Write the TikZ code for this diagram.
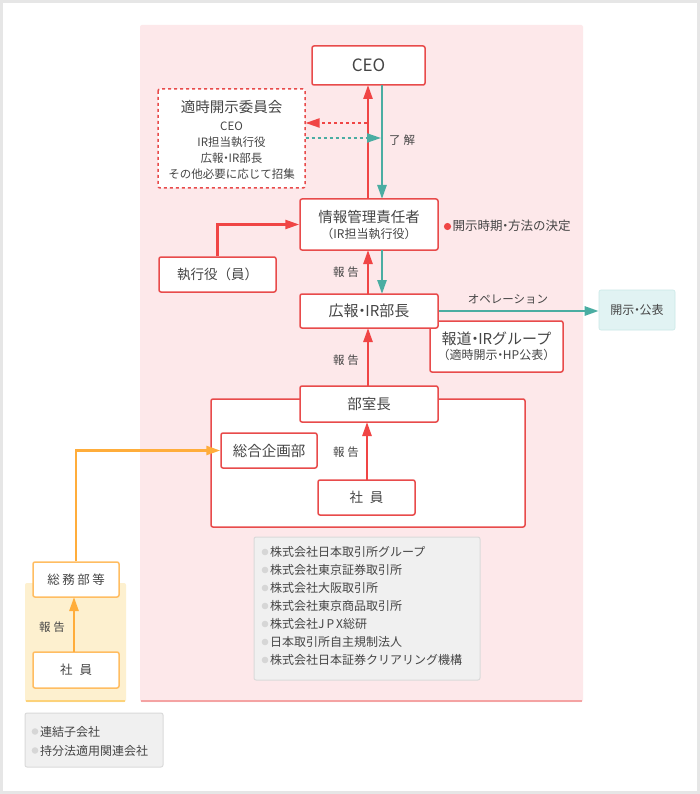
\documentclass[tikz,border=0pt]{standalone}
\usepackage{fontspec}
\setmainfont{Noto Sans CJK JP}
\usetikzlibrary{arrows.meta}
\definecolor{pinkbg}{HTML}{FDE8EA}
\definecolor{pinkedge}{HTML}{F4A3A3}
\definecolor{redln}{HTML}{E84B4B}
\definecolor{redar}{HTML}{F04545}
\definecolor{tealar}{HTML}{4AADA2}
\definecolor{tealbg}{HTML}{E1F3F3}
\definecolor{orangeln}{HTML}{FFAD3B}
\definecolor{orangebg}{HTML}{FDF0CF}
\definecolor{orangeedge}{HTML}{FCD27A}
\definecolor{txt}{HTML}{454545}
\definecolor{graybox}{HTML}{F0F0F0}
\definecolor{grayln}{HTML}{DADADA}
\definecolor{graydot}{HTML}{D6D6D6}
\definecolor{frame}{HTML}{E6E6E6}
\newcommand\nkg{\hspace{-0.28em}・\hspace{-0.28em}}
\tikzset{
  redbox/.style={draw=redln, line width=1.5pt, fill=white, rounded corners=2pt, text=txt, inner sep=0pt, align=center},
  orbox/.style={draw=orangeln!80, line width=1.5pt, fill=white, rounded corners=2pt, text=txt, inner sep=0pt, align=center},
  lbl/.style={text=txt, inner sep=0pt, font=\fontsize{11.5}{13}\selectfont},
  redarrow/.style={draw=redar, line width=2.5pt, -{Triangle[length=14pt,width=9pt]}},
  tealarrow/.style={draw=tealar, line width=2.5pt, -{Triangle[length=14pt,width=9pt]}},
  orarrow/.style={draw=orangeln, line width=2.5pt, -{Triangle[length=14pt,width=9pt]}},
  listtxt/.style={text=txt, inner sep=0pt, anchor=west, font=\fontsize{12}{14}\selectfont},
  comtxt/.style={text=txt, inner sep=0pt, font=\fontsize{11.5}{13}\selectfont},
}
\begin{document}
\begin{tikzpicture}[x=1pt,y=-1pt]
\useasboundingbox (0,0) rectangle (700,794);
\fill[white] (0,0) rectangle (700,794);
\draw[frame, line width=3pt] (1.5,1.5) rectangle (698.5,792.5);
% pink region
\fill[pinkbg, rounded corners=2pt] (140,25) rectangle (583,702);
\draw[pinkedge, line width=2pt] (141,701) -- (582,701);
% orange region
\fill[orangebg, rounded corners=2pt] (25,583) rectangle (126,702);
\draw[orangeedge, line width=2pt] (26,701) -- (125,701);
% outer department frame
\draw[redln, line width=1.5pt, fill=white, rounded corners=2pt] (211,399) rectangle (525,527);
% committee
\draw[redln, line width=1.5pt, dash pattern=on 3pt off 3pt, fill=white, rounded corners=2pt] (158,89) rectangle (305,188);
\node[text=txt, inner sep=0pt, font=\fontsize{14.5}{16}\selectfont] (comt) at (231.5,107) {適時開示委員会};
\node[comtxt] (com1) at (231.5,126) {CEO};
\node[comtxt] (com2) at (231.5,142) {IR担当執行役};
\node[comtxt] (com3) at (231.5,158) {広報\nkg IR部長};
\node[comtxt] (com4) at (231.5,174) {その他必要に応じて招集};
% boxes
\node[redbox, minimum width=113pt, minimum height=39pt, font=\fontsize{17}{19}\selectfont] (ceo) at (368.5,65.5) {CEO};
\node[redbox, minimum width=138pt, minimum height=51pt] (iim) at (369,224.5) {{\fontsize{14.5}{17}\selectfont 情報管理責任者}\\[4pt]{\fontsize{12}{13}\selectfont （IR担当執行役）}};
\node[redbox, minimum width=117pt, minimum height=35pt, font=\fontsize{13.5}{15}\selectfont] (exe) at (217.5,274.5) {執行役（員）};
\node[redbox, minimum width=133pt, minimum height=51pt] (houdou) at (496.5,346.5) {{\fontsize{15}{17}\selectfont 報道\nkg IRグループ}\\[3pt]{\fontsize{12}{13}\selectfont （適時開示\nkg HP公表）}};
\node[redbox, minimum width=138pt, minimum height=34pt, font=\fontsize{15}{17}\selectfont] (kouhou) at (369,311) {広報\nkg IR部長};
\node[fill=tealbg, draw=tealbg!85!tealar, line width=0.6pt, rounded corners=2pt, text=txt, inner sep=0pt, minimum width=76pt, minimum height=40pt, font=\fontsize{12}{13}\selectfont] (kaiji) at (637,310) {開示\nkg 公表};
\node[redbox, minimum width=138pt, minimum height=36pt, font=\fontsize{14.5}{17}\selectfont] (bushitsu) at (369,404) {部室長};
\node[redbox, minimum width=96pt, minimum height=35pt, font=\fontsize{14.5}{17}\selectfont] (sougou) at (269,450.5) {総合企画部};
\node[redbox, minimum width=97pt, minimum height=35pt, font=\fontsize{13.5}{15}\selectfont] (shain) at (366.5,497.5) {社\hspace{7pt}員};
\node[orbox, minimum width=86pt, minimum height=35pt, font=\fontsize{12.5}{15}\selectfont] (soumu) at (76,579.5) {総\hspace{2.5pt}務\hspace{2.5pt}部\hspace{2.5pt}等};
\node[orbox, minimum width=86pt, minimum height=36pt, font=\fontsize{12.5}{15}\selectfont] (shain2) at (76,670) {社\hspace{7pt}員};
% arrows
\draw[redarrow] (368,199) -- (368,85);
\draw[tealarrow] (382,85) -- (382,199);
\draw[redar, line width=2pt, dash pattern=on 3pt off 3pt, -{Triangle[length=14pt,width=9pt]}] (367,123) -- (305.5,123);
\draw[tealar, line width=2pt, dash pattern=on 3pt off 3pt, -{Triangle[length=14pt,width=9pt]}] (305.5,138) -- (381,138);
\draw[redarrow] (exe.north) |- (iim.west);
\draw[redarrow] (368,294) -- (368,250);
\draw[tealarrow] (382,250) -- (382,294);
\draw[tealarrow] (kouhou.east) -- (kouhou.east -| kaiji.west);
\draw[redarrow] (368,386) -- (368,328);
\draw[redarrow] (367,480) -- (367,422);
\draw[orarrow] (74,652) -- (74,597);
\draw[orarrow] (soumu.north) |- (sougou.west);
% labels
\node[lbl, anchor=west] (ryokai) at (389,140) {了\hspace{3pt}解};
\node[lbl] (hk1) at (346,272) {報\hspace{3pt}告};
\node[lbl] (hk2) at (346,360) {報\hspace{3pt}告};
\node[lbl] (hk3) at (346,452) {報\hspace{3pt}告};
\node[lbl] (hk4) at (52,627) {報\hspace{3pt}告};
\fill[redar] (447.5,226.5) circle (3.6pt);
\node[text=txt, inner sep=0pt, anchor=west, font=\fontsize{12.5}{14}\selectfont] (kettei) at (452.5,226) {開示時期\nkg 方法の決定};
\node[lbl] (ope) at (508,299) {オペレーション};
% group company list
\draw[grayln, fill=graybox, line width=1pt, rounded corners=2pt] (254,537) rectangle (480,680);
\foreach \t [count=\i] in {株式会社日本取引所グループ,株式会社東京証券取引所,株式会社大阪取引所,株式会社東京商品取引所,株式会社J\,P\,X総研,日本取引所自主規制法人,株式会社日本証券クリアリング機構} {
  \fill[graydot] (265,534+18*\i) circle (3.3pt);
  \node[listtxt] (g\i) at (270,534+18*\i) {\t};
}
\draw[grayln, fill=graybox, line width=1pt, rounded corners=2pt] (25,713) rectangle (163,767);
\fill[graydot] (35,731.5) circle (3.3pt);
\node[listtxt] (r1) at (40,731.5) {連結子会社};
\fill[graydot] (35,750.5) circle (3.3pt);
\node[listtxt] (r2) at (40,750.5) {持分法適用関連会社};
\end{tikzpicture}
\end{document}
